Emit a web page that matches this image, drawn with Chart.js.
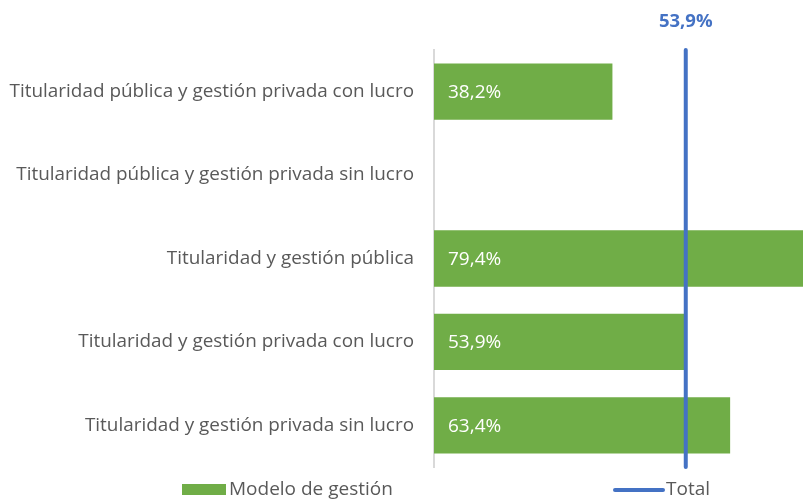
<!DOCTYPE html>
<html>
<head>
<meta charset="utf-8">
<script src="https://cdn.jsdelivr.net/npm/chart.js@4/dist/chart.umd.min.js"></script>
<style>
  html, body { margin: 0; padding: 0; background: #ffffff; }
  #wrap { width: 803px; height: 502px; position: relative; }
</style>
</head>
<body>
<div id="wrap"><canvas id="c" width="803" height="502"></canvas></div>
<script>
// ---- data ----
const categories = [
  'Titularidad pública y gestión privada con lucro',
  'Titularidad pública y gestión privada sin lucro',
  'Titularidad y gestión pública',
  'Titularidad y gestión privada con lucro',
  'Titularidad y gestión privada sin lucro'
];
const seriesValues = [38.2, null, 79.4, 53.9, 63.4];
const totalValue = 53.9;
const seriesName = 'Modelo de gestión';
const totalName = 'Total';

// ---- styles ----
const FONT = '"Open Sans", Lato, sans-serif';
const GREEN = '#70AD47';
const BLUE = '#4472C4';
const GREY_TEXT = '#595959';

const fmt = v => v.toFixed(1).replace('.', ',') + '%';

const valueLabels = {
  id: 'valueLabels',
  afterDatasetsDraw(chart) {
    const ctx = chart.ctx;
    const meta = chart.getDatasetMeta(0);
    ctx.save();
    ctx.fillStyle = '#ffffff';
    ctx.font = '19px ' + FONT;
    ctx.textAlign = 'left';
    ctx.textBaseline = 'middle';
    meta.data.forEach((el, i) => {
      const v = seriesValues[i];
      if (v === null || v === undefined) return;
      ctx.fillText(fmt(v), el.base + 14, el.y + 1);
    });
    const xs = chart.scales.x;
    ctx.fillStyle = BLUE;
    ctx.font = 'bold 18.5px ' + FONT;
    ctx.textAlign = 'center';
    ctx.fillText(fmt(totalValue), xs.getPixelForValue(totalValue), 22);
    ctx.restore();
  }
};

const customLegend = {
  id: 'customLegend',
  afterDraw(chart) {
    const ctx = chart.ctx;
    ctx.save();
    ctx.font = '19px ' + FONT;
    ctx.textBaseline = 'middle';
    ctx.textAlign = 'left';
    const yMid = 490;
    ctx.fillStyle = GREEN;
    ctx.fillRect(182, 484, 44, 11);
    ctx.fillStyle = GREY_TEXT;
    ctx.fillText(chart.data.datasets[0].label, 229, yMid);
    ctx.strokeStyle = BLUE;
    ctx.lineWidth = 4;
    ctx.lineCap = 'round';
    ctx.beginPath();
    ctx.moveTo(615, yMid);
    ctx.lineTo(663, yMid);
    ctx.stroke();
    ctx.fillStyle = GREY_TEXT;
    ctx.fillText(chart.data.datasets[1].label, 666, yMid);
    ctx.restore();
  }
};

new Chart(document.getElementById('c'), {
  type: 'bar',
  data: {
    labels: categories,
    datasets: [
      {
        label: seriesName,
        data: seriesValues,
        backgroundColor: GREEN,
        borderWidth: 0,
        barPercentage: 0.675,
        categoryPercentage: 1.0,
        grouped: false,
        order: 2
      },
      {
        type: 'line',
        label: totalName,
        data: [{ x: totalValue, y: 0 }, { x: totalValue, y: 1 }],
        xAxisID: 'x',
        yAxisID: 'y2',
        borderColor: BLUE,
        backgroundColor: BLUE,
        borderWidth: 4,
        borderCapStyle: 'round',
        pointRadius: 0,
        fill: false,
        order: 1,
        clip: false
      }
    ]
  },
  options: {
    indexAxis: 'y',
    responsive: false,
    animation: false,
    events: [],
    layout: { padding: { top: 50, bottom: 35, left: 0, right: 0 } },
    plugins: {
      legend: { display: false },
      tooltip: { enabled: false }
    },
    scales: {
      x: {
        type: 'linear',
        min: 0,
        max: 79,
        display: false
      },
      y: {
        type: 'category',
        position: 'left',
        grid: { display: false, drawTicks: false },
        border: { display: true, color: '#D9D9D9', width: 2 },
        ticks: {
          color: GREY_TEXT,
          font: { family: FONT, size: 18.9 },
          padding: 20
        },
        afterFit(scale) { scale.width = 434; }
      },
      y2: {
        type: 'linear',
        min: 0,
        max: 1,
        offset: false,
        grid: { offset: false },
        display: false
      }
    }
  },
  plugins: [valueLabels, customLegend]
});
</script>
</body>
</html>
